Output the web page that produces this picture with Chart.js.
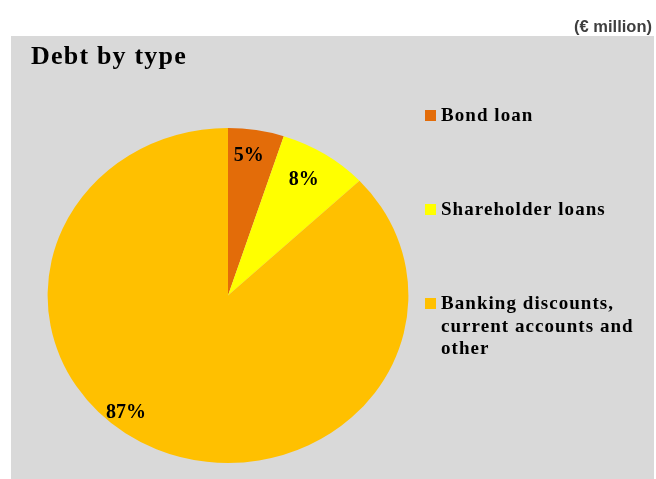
<!DOCTYPE html>
<html>
<head>
<meta charset="utf-8">
<script src="https://cdn.jsdelivr.net/npm/chart.js@4"></script>
<style>
  html, body { margin: 0; padding: 0; background: #ffffff; }
  #debtChart { display: block; }
</style>
</head>
<body>
<canvas id="debtChart" width="656" height="479"></canvas>
<script>
const debtTypes = ['Bond loan', 'Shareholder loans', 'Banking discounts, current accounts and other'];
const debtShares = [5, 8, 87];
const sliceColors = ['#E36C09', '#FFFF00', '#FFC000'];
const chartTitle = 'Debt by type';
const unitLabel = '(€ million)';

// grey panel, title and unit text behind the pie
const backdrop = {
    id: 'backdrop',
    beforeDraw(chart) {
        const ctx = chart.ctx;
        ctx.save();
        ctx.fillStyle = '#D9D9D9';
        ctx.fillRect(11, 36, 643, 443);

        ctx.fillStyle = '#000000';
        ctx.font = 'bold 26px "Liberation Serif"';
        ctx.letterSpacing = '1.2px';
        ctx.textBaseline = 'alphabetic';
        ctx.textAlign = 'left';
        ctx.fillText(chartTitle, 31, 64);

        ctx.fillStyle = '#3f3f3f';
        ctx.font = 'bold 16.5px "Liberation Sans"';
        ctx.letterSpacing = '0px';
        ctx.textAlign = 'right';
        ctx.fillText(unitLabel, 652, 32);
        ctx.restore();
    }
};

// the original pie is slightly wider than tall
const stretch = {
    id: 'stretch',
    beforeDatasetsDraw(chart, args, opts) {
        const arc = chart.getDatasetMeta(0).data[0];
        const ctx = chart.ctx;
        ctx.save();
        ctx.translate(arc.x, arc.y);
        ctx.scale(opts.sx, 1);
        ctx.translate(-arc.x, -arc.y);
    },
    afterDatasetsDraw(chart) {
        chart.ctx.restore();
    }
};

// percentage labels + legend on the right
const labelsAndLegend = {
    id: 'labelsAndLegend',
    afterDraw(chart, args, opts) {
        const ctx = chart.ctx;
        const ds = chart.data.datasets[0];
        const total = ds.data.reduce((a, b) => a + b, 0);
        const sx = chart.options.plugins.stretch.sx;
        ctx.save();
        ctx.fillStyle = '#000000';
        ctx.font = 'bold 20px "Liberation Serif"';
        ctx.textAlign = 'center';
        ctx.textBaseline = 'middle';
        chart.getDatasetMeta(0).data.forEach((arc, i) => {
            const p = arc.getProps(['x', 'y', 'startAngle', 'endAngle', 'outerRadius']);
            const mid = (p.startAngle + p.endAngle) / 2 + opts.angleShift[i];
            const r = p.outerRadius * opts.radiusFactor[i];
            const x = p.x + Math.cos(mid) * r * sx;
            const y = p.y + Math.sin(mid) * r;
            ctx.fillText(Math.round(ds.data[i] / total * 100) + '%', x, y);
        });

        ctx.textAlign = 'left';
        ctx.textBaseline = 'alphabetic';
        ctx.font = 'bold 19px "Liberation Serif"';
        ctx.letterSpacing = '1.05px';
        chart.data.labels.forEach((label, i) => {
            const base = opts.top + i * opts.step;
            ctx.fillStyle = ds.backgroundColor[i];
            ctx.fillRect(opts.x, base - 11, 11, 11);
            ctx.fillStyle = '#000000';
            const words = label.split(' ');
            let line = '';
            let row = 0;
            words.forEach(w => {
                const test = line ? line + ' ' + w : w;
                if (ctx.measureText(test).width > opts.maxWidth && line) {
                    ctx.fillText(line, opts.x + 16, base + row * opts.lineHeight);
                    line = w;
                    row++;
                } else {
                    line = test;
                }
            });
            ctx.fillText(line, opts.x + 16, base + row * opts.lineHeight);
        });
        ctx.restore();
    }
};

const ctx = document.getElementById('debtChart').getContext('2d');
const debtChart = new Chart(ctx, {
    type: 'pie',
    data: {
        labels: debtTypes,
        datasets: [{
            data: debtShares,
            backgroundColor: sliceColors,
            borderWidth: 0
        }]
    },
    options: {
        responsive: false,
        animation: false,
        layout: {
            padding: { left: 60.5, right: 260.5, top: 128, bottom: 16 }
        },
        plugins: {
            legend: { display: false },
            title: { display: false },
            tooltip: { enabled: false },
            stretch: { sx: 1.077 },
            labelsAndLegend: {
                radiusFactor: [0.84, 0.81, 0.9],
                angleShift: [-0.02, -0.02, 0.27],
                x: 425,
                top: 121,
                step: 94,
                lineHeight: 22.5,
                maxWidth: 200
            }
        }
    },
    plugins: [backdrop, stretch, labelsAndLegend]
});
</script>
</body>
</html>
